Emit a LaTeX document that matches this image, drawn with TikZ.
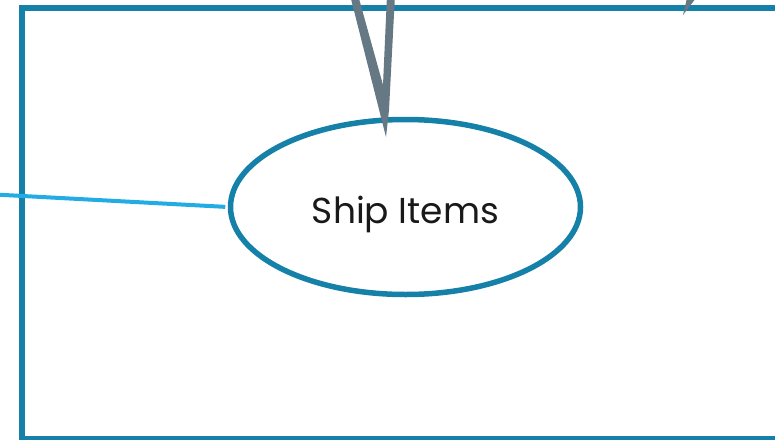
\documentclass[tikz,border=0pt]{standalone}
\usepackage{fontspec}
\setmainfont{Poppins}
\usetikzlibrary{shapes.geometric}
\definecolor{frameblue}{HTML}{1580A8}
\definecolor{lineblue}{HTML}{22ACE3}
\definecolor{arrowgray}{HTML}{657883}
\tikzset{
  frame/.style={draw=frameblue, line width=6pt},
  usecase/.style={ellipse, draw=frameblue, line width=5.5pt, minimum width=350pt, minimum height=175pt, inner sep=0pt, font=\fontsize{36}{40}\selectfont, text=black!90, text height=32pt, text depth=0pt},
  assoc/.style={draw=lineblue, line width=4pt, shorten >=2.5pt},
  grayarrow/.style={fill=arrowgray, draw=none}
}
\begin{document}
\begin{tikzpicture}[x=1pt, y=-1pt]
\useasboundingbox (0,0) rectangle (775,439);
\clip (0,0) rectangle (775,439);
\draw[frame] (21.5,8) rectangle (800,438.5);
\coordinate (start) at (-5,194.5);
\node[usecase] (ship) at (405.5,207) {Ship Items};
\draw[assoc] (start) -- (ship.west);
\fill[grayarrow] (350,-5) -- (358,-5) -- (383,85) -- (387,-5) -- (395,-5) -- (389,110) -- (386,137) -- cycle;
\fill[grayarrow] (687,-2) -- (696,-2) -- (683,15) -- cycle;
\end{tikzpicture}
\end{document}
